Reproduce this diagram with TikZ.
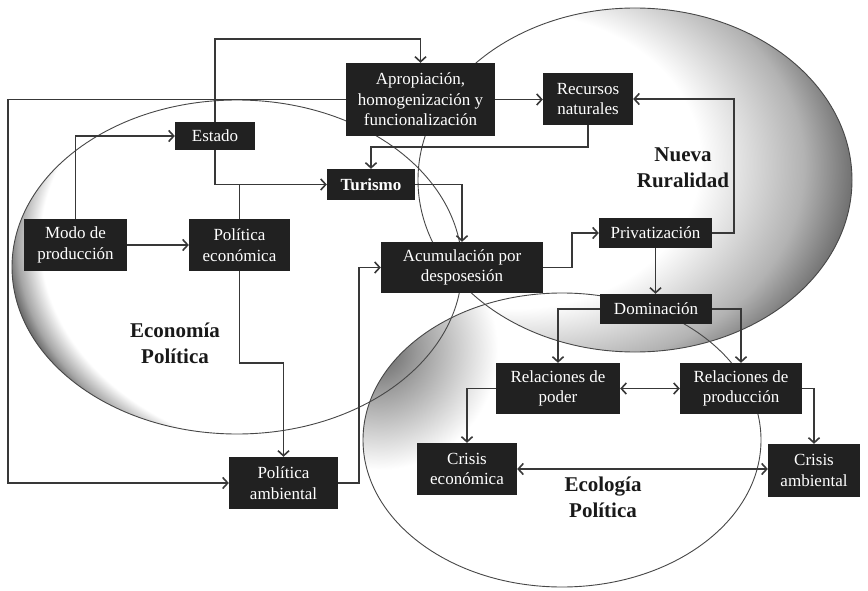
\documentclass[tikz,border=0pt]{standalone}
\usepackage{fontspec}
\setmainfont{Liberation Serif}
\usetikzlibrary{arrows.meta}
\pgfdeclareradialshading{shEco}{\pgfpoint{30bp}{10.5bp}}{color(0bp)=(white); color(32.4bp)=(white); color(34bp)=(black!35); color(35.36bp)=(black!80); color(50bp)=(black!80)}
\pgfdeclareradialshading{shNue}{\pgfpoint{-24.5bp}{5bp}}{color(0bp)=(white); color(21.5bp)=(white); color(29.5bp)=(black!30); color(35.36bp)=(black!70); color(50bp)=(black!70)}
\pgfdeclareradialshading{shSpot}{\pgfpoint{0bp}{0bp}}{color(0bp)=(black!62); color(8bp)=(black!40); color(25bp)=(white); color(50bp)=(white)}
\begin{document}
\begin{tikzpicture}[x=1pt,y=-1pt,
  box/.style={fill=black!87, text=white!92, inner sep=0pt, align=center, font=\fontsize{17}{20.5}\selectfont},
  arr/.style={draw=black!78, line width=1.6pt, -{Straight Barb[length=5pt,width=11pt]}},
  dbl/.style={draw=black!78, line width=1.6pt, {Straight Barb[length=5pt,width=11pt]}-{Straight Barb[length=5pt,width=11pt]}},
  ln/.style={draw=black!78, line width=1.6pt},
  lab/.style={font=\fontsize{21}{26}\selectfont\bfseries, align=center, text=black!90},
  rim/.style={draw=black!72, line width=0.9pt}]
\useasboundingbox (0,0) rectangle (868,591);
\fill[white] (0,0) rectangle (868,591);
\begin{scope}[blend mode=multiply]
\shade[shading=shEco] (237,267) ellipse [x radius=225pt, y radius=167pt];
\shade[shading=shNue] (635,180) ellipse [x radius=217pt, y radius=172pt];
\begin{scope}
\clip (562,440) ellipse [x radius=199pt, y radius=147pt];
\shade[shading=shSpot] (378,350) circle [radius=120pt];
\end{scope}
\end{scope}
\draw[rim] (237,267) ellipse [x radius=225pt, y radius=167pt];
\draw[rim] (635,180) ellipse [x radius=217pt, y radius=172pt];
\draw[rim] (562,440) ellipse [x radius=199pt, y radius=147pt];

\node[lab] (lEco) at (175,343) {Economía\\Política};
\node[lab] (lNue) at (683,168) {Nueva\\Ruralidad};
\node[lab] (lEcl) at (603,497) {Ecología\\Política};

\node[box, minimum width=80pt, minimum height=28pt] (estado) at (215,136) {Estado};
\node[box, minimum width=149pt, minimum height=73pt] (aprop) at (420.5,99.5) {Apropiación,\\homogenización y\\funcionalización};
\node[box, minimum width=88pt, minimum height=31pt, font=\fontsize{17}{20.5}\selectfont\bfseries] (turismo) at (371,184.5) {Turismo};
\node[box, minimum width=103pt, minimum height=52pt] (modo) at (75.5,245) {Modo de\\producción};
\node[box, minimum width=101pt, minimum height=52pt] (poleco) at (239.5,245) {Política\\económica};
\node[box, minimum width=162pt, minimum height=51pt] (acum) at (462,267.5) {Acumulación por\\desposesión};
\node[box, minimum width=90pt, minimum height=52pt] (recursos) at (588,99) {Recursos\\naturales};
\node[box, minimum width=113pt, minimum height=30pt] (priv) at (655.5,233) {Privatización};
\node[box, minimum width=112pt, minimum height=30pt] (domin) at (656,309) {Dominación};
\node[box, minimum width=124pt, minimum height=51pt] (relpod) at (558,388.5) {Relaciones de\\poder};
\node[box, minimum width=122pt, minimum height=51pt] (relprod) at (741,388.5) {Relaciones de\\producción};
\node[box, minimum width=100pt, minimum height=52pt] (criseco) at (467,469) {Crisis\\económica};
\node[box, minimum width=92pt, minimum height=53pt] (crisamb) at (814,470.5) {Crisis\\ambiental};
\node[box, minimum width=109pt, minimum height=52pt] (polamb) at (283.5,483) {Política\\ambiental};

\coordinate (c2) at (8,99.5);
\draw[arr] (estado.north) -- ++(0,-83) -| (aprop.north);
\draw[arr] (aprop.west) -- (c2) |- (polamb.west);
\draw[arr] (modo.north) |- (estado.west);
\draw[arr] (modo.east) -- (poleco.west);
\draw[arr] (estado.south) |- (turismo.west);
\draw[ln] (poleco.north) -- (poleco.north |- turismo.west);
\draw[arr] (poleco.south) -- ++(0,92) -| (polamb.north);
\draw[arr] (polamb.east) -- ++(21,0) |- (acum.west);
\draw[arr] (turismo.east) -| (acum.north);
\draw[arr] (recursos.south) -- ++(0,22) -| (turismo.north);
\draw[arr] (aprop.east) -- (aprop.east -| recursos.west);
\draw[arr] (acum.east) -- ++(29,0) |- (priv.west);
\draw[arr] (priv.east) -- ++(22,0) |- (recursos.east);
\draw[arr] (priv.south) -- (priv.south |- domin.north);
\draw[arr] (domin.west) -| (relpod.north);
\draw[arr] (domin.east) -| (relprod.north);
\draw[dbl] (relpod.east) -- (relprod.west);
\draw[arr] (relpod.west) -| (criseco.north);
\draw[arr] (relprod.east) -| (crisamb.north);
\draw[dbl] (criseco.east) -- (criseco.east -| crisamb.west);
\end{tikzpicture}
\end{document}
